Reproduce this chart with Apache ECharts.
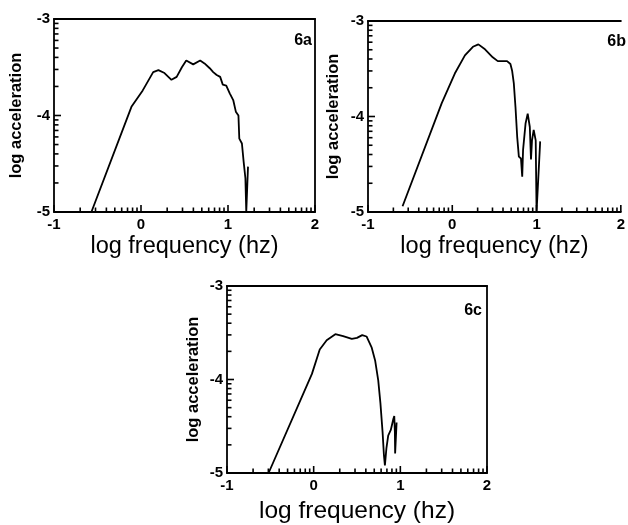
<!DOCTYPE html>
<html>
<head>
<meta charset="utf-8">
<script src="https://cdn.jsdelivr.net/npm/echarts@6/dist/echarts.min.js"></script>
<style>
  html, body { margin: 0; padding: 0; background: #fff; }
  #main { width: 628px; height: 525px; }
</style>
</head>
<body>
<div id="main"></div>
<script>
// panel 6a
var freqA  = [-0.57, -0.11, 0.02, 0.14, 0.20, 0.27, 0.35, 0.41, 0.47, 0.52, 0.60, 0.68, 0.73, 0.79, 0.83, 0.87, 0.91, 0.94, 0.98, 1.02, 1.06, 1.09, 1.12, 1.13, 1.16, 1.18, 1.20, 1.21, 1.22, 1.23];
var accelA = [-5.0, -3.91, -3.74, -3.55, -3.53, -3.56, -3.63, -3.60, -3.50, -3.43, -3.47, -3.43, -3.46, -3.51, -3.55, -3.58, -3.60, -3.68, -3.69, -3.77, -3.84, -3.96, -4.00, -4.24, -4.29, -4.48, -4.65, -5.0, -5.0, -4.53];
// panel 6b
var freqB  = [-0.59, -0.125, 0.03, 0.15, 0.245, 0.31, 0.38, 0.48, 0.54, 0.65, 0.69, 0.71, 0.73, 0.75, 0.77, 0.79, 0.815, 0.83, 0.84, 0.87, 0.895, 0.92, 0.934, 0.946, 0.966, 0.99, 1.0, 1.005, 1.043];
var accelB = [-4.94, -3.86, -3.55, -3.36, -3.27, -3.245, -3.29, -3.38, -3.42, -3.42, -3.45, -3.52, -3.65, -3.90, -4.21, -4.42, -4.44, -4.63, -4.35, -4.07, -3.97, -4.11, -4.45, -4.25, -4.14, -4.25, -5.0, -5.0, -4.26];
// panel 6c
var freqC  = [-0.52, -0.02, 0.07, 0.15, 0.25, 0.34, 0.44, 0.50, 0.56, 0.61, 0.67, 0.71, 0.745, 0.77, 0.795, 0.81, 0.822, 0.84, 0.86, 0.89, 0.92, 0.93, 0.937, 0.94, 0.957];
var accelC = [-5.0, -3.94, -3.68, -3.58, -3.515, -3.535, -3.565, -3.555, -3.525, -3.54, -3.66, -3.80, -4.01, -4.25, -4.56, -4.80, -4.92, -4.73, -4.60, -4.54, -4.42, -4.39, -4.56, -4.79, -4.46];

var panelNames = ['6a', '6b', '6c'];
var xMajor = [-1, 0, 1, 2];
var yMajor = [-5, -4, -3];
var xTickLabels = ['-1', '0', '1', '2'];
var yTickLabels = ['-5', '-4', '-3'];
var xName = 'log frequency (hz)';
var yName = 'log acceleration';

var FONT = '"Liberation Sans", Arial, sans-serif';
var X_MIN = -1, X_MAX = 2, Y_MIN = -5, Y_MAX = -3;

// log-decade minor ticks
function minorTicks(from, to) {
    var out = [];
    for (var d = from; d < to; d++) {
        for (var k = 2; k <= 9; k++) out.push(d + Math.log10(k));
    }
    return out;
}
var xMinor = minorTicks(X_MIN, X_MAX);
var yMinor = minorTicks(Y_MIN, Y_MAX);

function zip(xs, ys) {
    var out = [];
    for (var i = 0; i < xs.length; i++) out.push([xs[i], ys[i]]);
    return out;
}

var grids = [
    {left: 54, top: 19, width: 261, height: 193, xGap: 23, yGap: 29, xSize: 23.5, frameRight: true},
    {left: 368, top: 21, width: 257, height: 191, xGap: 23, yGap: 26, xSize: 23.5, frameRight: false},
    {left: 227, top: 286, width: 260, height: 193, xGap: 26, yGap: 25, xSize: 24.5, frameRight: true}
];
var curves = [zip(freqA, accelA), zip(freqB, accelB), zip(freqC, accelC)];
var labelPos = [[312, 41], [626, 42], [482, 311]];

// inward ticks drawn through the axes' own scales
function tickSeries(xi, yi, values, horizontal, len) {
    return {
        type: 'custom', xAxisIndex: xi, yAxisIndex: yi, silent: true, animation: false, clip: false, z: 5,
        data: values.map(function (v) { return horizontal ? [v, Y_MIN] : [X_MIN, v]; }),
        renderItem: function (params, api) {
            var p = api.coord([api.value(0), api.value(1)]);
            var shape = horizontal
                ? {x1: p[0], y1: p[1], x2: p[0], y2: p[1] - len}
                : {x1: p[0], y1: p[1], x2: p[0] + len, y2: p[1]};
            return {type: 'line', shape: shape, style: {stroke: '#000', lineWidth: 1.6, fill: null}};
        }
    };
}

var option = {grid: [], xAxis: [], yAxis: [], series: [], graphic: []};

grids.forEach(function (g, i) {
    option.grid.push({left: g.left, top: g.top, width: g.width, height: g.height});
    var xi = option.xAxis.length, yi = option.yAxis.length;
    // bottom axis: line, labels, name
    option.xAxis.push({
        type: 'value', gridIndex: i, min: X_MIN, max: X_MAX, interval: 1, position: 'bottom',
        axisLine: {show: true, onZero: false, lineStyle: {color: '#000', width: 1.8}},
        splitLine: {show: false}, axisTick: {show: false},
        axisLabel: {margin: 5, color: '#000', fontFamily: FONT, fontWeight: 'bold', fontSize: 15,
            formatter: function (v) { return xTickLabels[Math.round(v) + 1]; }},
        name: xName, nameLocation: 'middle', nameGap: g.xGap,
        nameTextStyle: {color: '#000', fontFamily: FONT, fontSize: g.xSize, verticalAlign: 'top'}
    });
    // top frame
    option.xAxis.push({
        type: 'value', gridIndex: i, min: X_MIN, max: X_MAX, position: 'top',
        axisLine: {show: true, onZero: false, lineStyle: {color: '#000', width: 2}},
        axisTick: {show: false}, axisLabel: {show: false}, splitLine: {show: false}
    });
    // left axis: line, labels, name
    option.yAxis.push({
        type: 'value', gridIndex: i, min: Y_MIN, max: Y_MAX, interval: 1, position: 'left',
        axisLine: {show: true, onZero: false, lineStyle: {color: '#000', width: 1.8}},
        splitLine: {show: false}, axisTick: {show: false},
        axisLabel: {margin: 4, color: '#000', fontFamily: FONT, fontWeight: 'bold', fontSize: 15,
            formatter: function (v) { return yTickLabels[Math.round(v) + 5]; }},
        name: yName, nameLocation: 'middle', nameGap: g.yGap,
        nameTextStyle: {color: '#000', fontFamily: FONT, fontWeight: 'bold', fontSize: 16.5}
    });
    // right frame
    option.yAxis.push({
        type: 'value', gridIndex: i, min: Y_MIN, max: Y_MAX, position: 'right',
        axisLine: {show: g.frameRight, onZero: false, lineStyle: {color: '#000', width: 1.8}},
        axisTick: {show: false}, axisLabel: {show: false}, splitLine: {show: false}
    });

    option.series.push(tickSeries(xi, yi, xMajor, true, 7));
    option.series.push(tickSeries(xi, yi, xMinor, true, 4.5));
    option.series.push(tickSeries(xi, yi, yMajor, false, 7));
    option.series.push(tickSeries(xi, yi, yMinor, false, 4.5));
    option.series.push({
        type: 'line', xAxisIndex: xi, yAxisIndex: yi, data: curves[i],
        showSymbol: false, lineStyle: {color: '#000', width: 1.8}
    });
    option.graphic.push({
        type: 'text', x: labelPos[i][0], y: labelPos[i][1],
        style: {text: panelNames[i], fill: '#000', font: 'bold 16px ' + FONT,
            textAlign: 'right', textVerticalAlign: 'middle'}
    });
});

var chart = echarts.init(document.getElementById('main'));
chart.setOption(option);
</script>
</body>
</html>
